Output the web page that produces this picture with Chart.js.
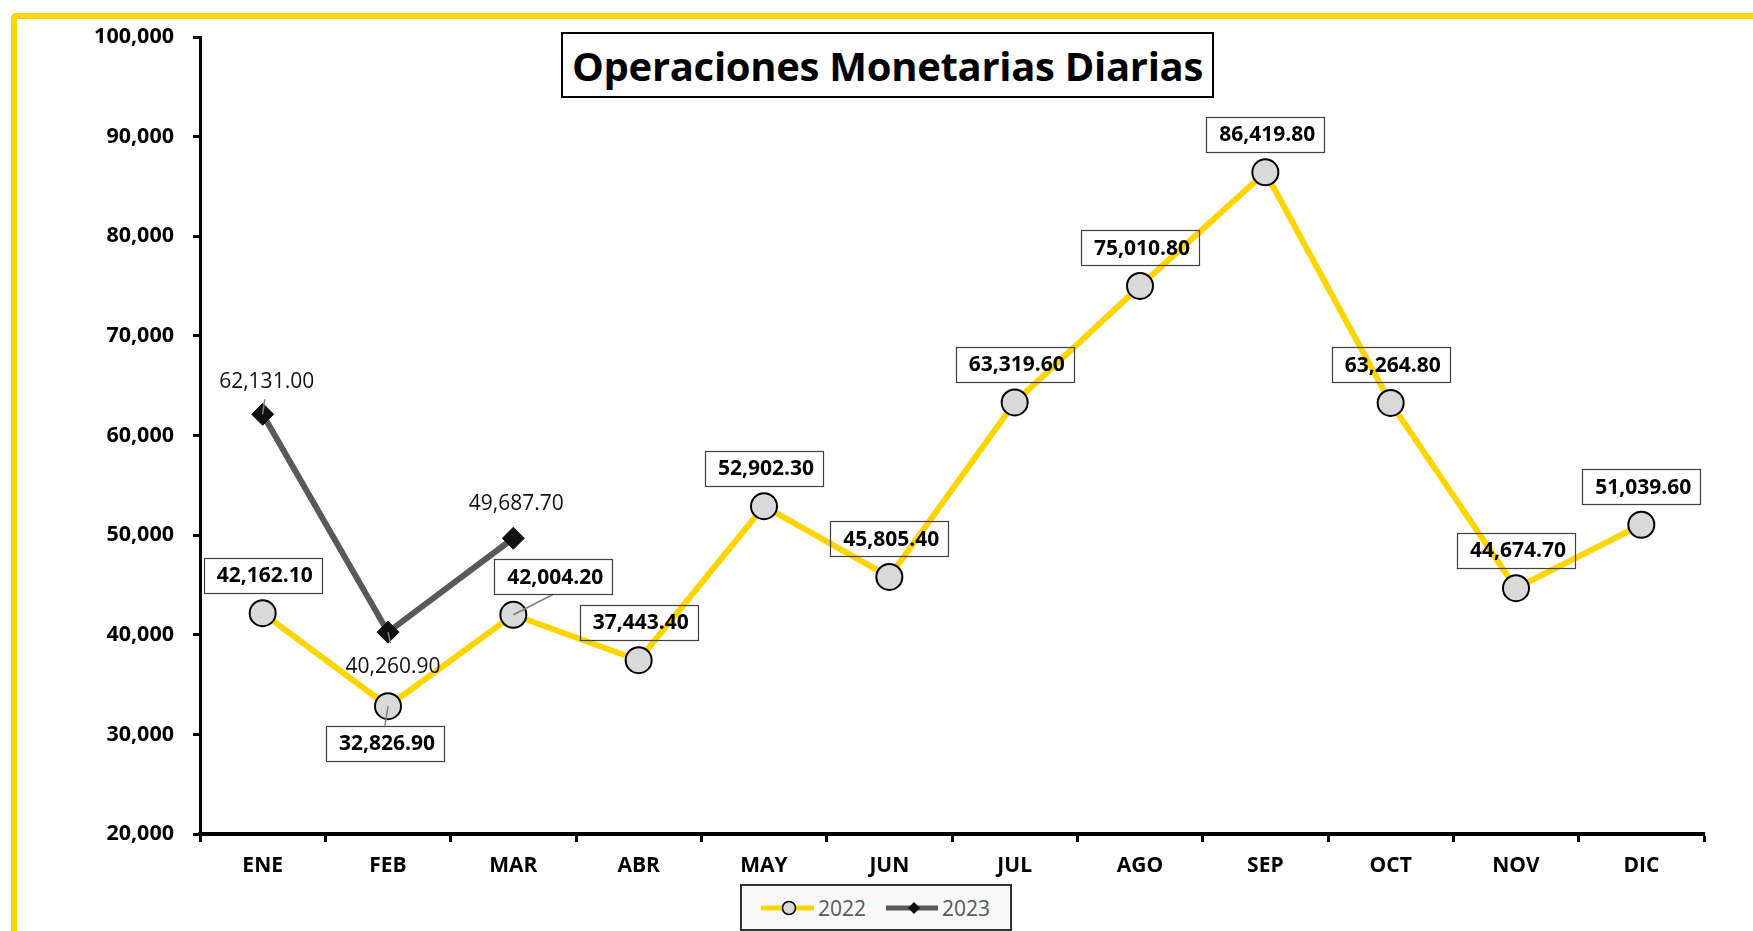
<!DOCTYPE html>
<html>
<head>
<meta charset="utf-8">
<script src="https://cdn.jsdelivr.net/npm/chart.js@4.4.1/dist/chart.umd.min.js"></script>
<style>
html, body { margin: 0; padding: 0; background: #fff; }
#wrap { position: relative; width: 1753px; height: 931px; overflow: hidden; font-family: "Open Sans", sans-serif; }
#marco { position: absolute; left: 11px; top: 13px; width: 1800px; height: 1000px; border: 6px solid #FFD500; border-radius: 5px; box-sizing: border-box; }
#grafico { position: absolute; left: 0; top: 0; }
#titulo { position: absolute; left: 561px; top: 32px; width: 653px; height: 66px; border: 2px solid #000; box-sizing: border-box; background: #fff;
  font-weight: 700; font-size: 40px; color: #000; display: flex; align-items: center; justify-content: center; white-space: nowrap; letter-spacing: -0.3px; }
#leyenda { position: absolute; left: 740px; top: 884px; width: 272px; height: 47px; border: 2px solid #333; box-sizing: border-box; background: #f8f8f8;
  display: flex; align-items: center; padding-left: 19px; font-size: 21px; color: #595959; }
#leyenda svg { display: block; margin-right: 4px; }
#leyenda span { margin-right: 20px; }
</style>
</head>
<body>
<div id="wrap">
  <div id="marco"></div>
  <canvas id="grafico" width="1753" height="931"></canvas>
  <div id="titulo">Operaciones Monetarias Diarias</div>
  <div id="leyenda">
    <svg width="57" height="18"><line x1="0" y1="9" x2="57" y2="9" stroke="#FFD500" stroke-width="5" stroke-linecap="round"/><circle cx="28" cy="9" r="6.5" fill="#D9D9D9" stroke="#000" stroke-width="1.5"/></svg><span>2022</span>
    <svg width="56" height="18"><line x1="0" y1="9" x2="56" y2="9" stroke="#595959" stroke-width="5" stroke-linecap="round"/><polygon points="28,3 34,9 28,15 22,9" fill="#111"/></svg><span>2023</span>
  </div>
</div>
<script>
// Datos
const meses = ['ENE', 'FEB', 'MAR', 'ABR', 'MAY', 'JUN', 'JUL', 'AGO', 'SEP', 'OCT', 'NOV', 'DIC'];
const valores2022 = [42162.10, 32826.90, 42004.20, 37443.40, 52902.30, 45805.40, 63319.60, 75010.80, 86419.80, 63264.80, 44674.70, 51039.60];
const valores2023 = [62131.00, 40260.90, 49687.70];
const ejeY = [20000, 100000, 10000]; // min, max, paso

// posicion de las etiquetas (como en el original)
const pos2022 = ['arriba', 'abajo', 'arribaDer', 'arriba', 'arriba', 'arriba', 'arriba', 'arriba', 'arriba', 'arriba', 'arriba', 'arriba'];
const pos2023 = ['arribaLinea', 'abajoLinea', 'arriba2'];

const AMARILLO = '#FFD500';
const GRIS = '#595959';
const FUENTE = '"Open Sans", sans-serif';

const fmt = v => v.toLocaleString('en-US', { minimumFractionDigits: 2, maximumFractionDigits: 2 });

const desplaz = {
  arriba: { dx: 0, dy: -38, guia: false },
  abajo: { dx: -3, dy: 37, guia: true },
  arribaDer: { dx: 40, dy: -38, guia: true },
  arribaLinea: { dx: 4, dy: -32, guia: true },
  abajoLinea: { dx: 5, dy: 35, guia: true },
  arriba2: { dx: 3, dy: -34, guia: false }
};

// Etiquetas de datos dibujadas a mano (no hay plugin datalabels)
const etiquetas = {
  id: 'etiquetas',
  afterDatasetsDraw(chart) {
    const ctx = chart.ctx;
    ctx.save();
    ctx.textAlign = 'center';
    ctx.textBaseline = 'middle';

    // 2022: caja con borde
    const m0 = chart.getDatasetMeta(0);
    const w = 118, h = 35;
    m0.data.forEach((p, i) => {
      const d = desplaz[pos2022[i]];
      const cx = p.x + d.dx, cy = p.y + d.dy;
      if (d.guia) {
        ctx.strokeStyle = '#808080';
        ctx.lineWidth = 1.5;
        ctx.beginPath();
        ctx.moveTo(p.x, p.y);
        ctx.lineTo(cx, d.dy > 0 ? cy - h / 2 : cy + h / 2);
        ctx.stroke();
      }
      ctx.strokeStyle = '#404040';
      ctx.lineWidth = 1.2;
      ctx.strokeRect(Math.round(cx - w / 2) + 0.5, Math.round(cy - h / 2) + 0.5, w, h);
      ctx.fillStyle = '#000';
      ctx.font = 'bold 21px ' + FUENTE;
      ctx.fillText(fmt(valores2022[i]), cx + 2, cy + 1);
    });

    // 2023: texto simple
    const m1 = chart.getDatasetMeta(1);
    m1.data.forEach((p, i) => {
      const d = desplaz[pos2023[i]];
      const cx = p.x + d.dx, cy = p.y + d.dy;
      if (d.guia) {
        ctx.strokeStyle = '#808080';
        ctx.lineWidth = 1.5;
        ctx.beginPath();
        ctx.moveTo(p.x, p.y);
        ctx.lineTo(p.x + d.dx / 2, p.y + (d.dy > 0 ? 11 : -15));
        ctx.stroke();
      }
      ctx.fillStyle = '#111';
      ctx.font = '21px ' + FUENTE;
      ctx.fillText(fmt(valores2023[i]), cx, cy);
    });
    ctx.restore();
  }
};

new Chart(document.getElementById('grafico'), {
  type: 'line',
  data: {
    labels: meses,
    datasets: [
      {
        label: '2022',
        data: valores2022,
        order: 2,
        borderColor: AMARILLO,
        borderWidth: 6,
        pointStyle: 'circle',
        pointRadius: 13,
        pointBackgroundColor: '#D9D9D9',
        pointBorderColor: '#000',
        pointBorderWidth: 2,
        tension: 0
      },
      {
        label: '2023',
        data: valores2023,
        order: 1,
        borderColor: GRIS,
        borderWidth: 6,
        pointStyle: 'rectRot',
        pointRadius: 11,
        pointBackgroundColor: '#111',
        pointBorderColor: '#111',
        pointBorderWidth: 1,
        tension: 0
      }
    ]
  },
  options: {
    responsive: false,
    animation: false,
    devicePixelRatio: 1,
    layout: { padding: { top: 37, right: 49, left: 0, bottom: 0 } },
    plugins: { legend: { display: false }, tooltip: { enabled: false }, title: { display: false } },
    scales: {
      x: {
        offset: true,
        grid: { offset: true, drawOnChartArea: false, drawTicks: true, tickLength: 8, tickWidth: 3, tickColor: '#000' },
        border: { display: true, color: '#000', width: 4 },
        ticks: { color: '#000', font: { family: FUENTE, size: 21, weight: 'bold' }, padding: 11, maxRotation: 0 },
        afterFit: s => { s.height = 97; }
      },
      y: {
        min: ejeY[0],
        max: ejeY[1],
        grid: { drawOnChartArea: false, drawTicks: true, tickLength: 7, tickWidth: 3, tickColor: '#000' },
        border: { display: true, color: '#000', width: 3 },
        ticks: {
          stepSize: ejeY[2],
          color: '#000',
          font: { family: FUENTE, size: 21.5, weight: 'bold' },
          padding: 19,
          callback: v => v.toLocaleString('en-US')
        },
        afterFit: s => { s.width = 200; }
      }
    }
  },
  plugins: [etiquetas]
});
</script>
</body>
</html>
